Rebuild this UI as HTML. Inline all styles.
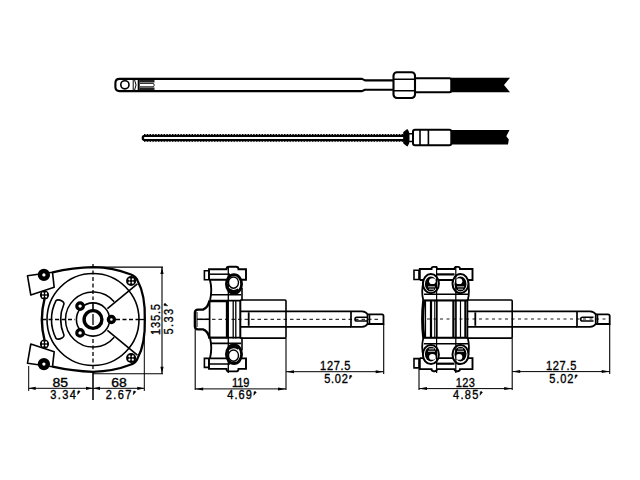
<!DOCTYPE html>
<html><head><meta charset="utf-8">
<style>
html,body{margin:0;padding:0;background:#fff;width:640px;height:480px;overflow:hidden}
svg{display:block}
text{font-family:"Liberation Sans",sans-serif;fill:#000}
</style></head><body>
<svg width="640" height="480" viewBox="0 0 640 480">
<rect width="640" height="480" fill="#fff"/>
<g fill="none" stroke="#000" stroke-linejoin="round" stroke-linecap="butt">

<!-- ============ TOP ROD ============ -->
<path d="M393,80.4 H365 L362,78.9 H119.5 Q115.4,78.9 115.4,83 V87 Q115.4,91.1 119.5,91.1 H362 L365,89.7 H393" stroke-width="2.1"/>
<circle cx="124.9" cy="84.8" r="4.1" stroke-width="1.6"/>
<path d="M133.2,80 V90 M134.6,80 Q137.5,85 134.6,90" stroke-width="1"/>
<path d="M138.7,79.5 V90.5" stroke-width="2"/>
<path d="M139.5,81.3 H154.5 M139.5,88.7 H154.5" stroke-width="2.5" stroke="#222"/>
<path d="M140,83.4 H153.5 Q155,85.1 153.5,86.8 H140" stroke-width="0.9"/>
<!-- nut -->
<rect x="393.5" y="72.2" width="21.5" height="25.8" rx="3.5" stroke-width="2.1"/>
<path d="M394,79.2 H414.5 M394,90.8 H414.5" stroke-width="1.5"/>
<!-- after nut tube -->
<path d="M415,78.3 H449.5 Q451.3,78.3 451.3,80.5 V90 Q451.3,92.2 449.5,92.2 H415" stroke-width="2.1"/>
<!-- black cable -->
<path d="M451,77.7 H510 L504,85 L510,92.2 H451 Z" fill="#000" stroke="none"/>

<!-- ============ SECOND ROD (threaded) ============ -->
<path d="M145,135.9 H404 M404,140.1 H145 Q142.7,140.1 142.7,138 Q142.7,135.9 145,135.9" stroke-width="2.1"/>
<path d="M144,134.6 H404 M144,141.3 H404" stroke-width="1.1" stroke-dasharray="1.4 1.4"/>
<!-- flange -->
<path d="M403.8,132.5 L405,131.5 L407.3,129.8 L408.6,132.5 V143 L407.3,145.8 L405,144 L403.8,143 Z" fill="#000" stroke="#000" stroke-width="1.2"/>
<rect x="408.6" y="133.7" width="4.4" height="7.8" stroke-width="1.5"/>
<rect x="413" y="129.7" width="38.3" height="15.6" rx="2" stroke-width="2"/>
<path d="M420,130 V145 M428.4,130 V145" stroke-width="1.6"/>
<path d="M451.3,130 H509.5 L506.3,136.3 L508.8,139.5 L508,144.6 H451.3 Z" fill="#000" stroke="none"/>

<!-- ============ VIEW 1 FRONT ============ -->
<!-- body outline -->
<path d="M52.5,272.3 C65,269.5 80,267.5 93,267.2 C108,267.5 122,271 131,274.5 Q136,276.5 137.5,280.5 Q145.5,295 144.8,319.5 Q145.5,344 137.5,358.5 Q136,362.5 131,364.5 C122,368 108,371.5 93,371.8 C80,371.5 65,369.5 52.5,366.7" stroke-width="2.3"/>
<path d="M44.5,299 Q39.2,319.5 44.5,340" stroke-width="2.4"/>
<!-- brackets -->
<path d="M27.5,275.8 L52.5,272.3 L54.2,287.3 L30.8,295 Z" stroke-width="1.6" fill="#fff"/>
<path d="M27.5,363.2 L52.5,366.7 L54.2,351.7 L30.8,344 Z" stroke-width="1.6" fill="#fff"/>
<circle cx="43.9" cy="274.9" r="3.9" stroke-width="4.5" fill="#fff"/>
<circle cx="43.9" cy="364.1" r="3.9" stroke-width="4.5" fill="#fff"/>
<!-- circles -->
<circle cx="93" cy="319.5" r="46" stroke-width="1.6"/>
<path d="M56,300.6 A41.6,41.6 0 0 0 56,338.4 Q58,340 62,338 Q64,337 64,335.2 A40,40 0 0 1 64,303.8 Q64,302 62,301 Q58,299 56,300.6 Z" stroke-width="1.6"/>
<path d="M114.2,301.7 A27.6,27.6 0 1 0 114.2,337.3" stroke-width="1.5"/>
<!-- diagonals -->
<path d="M107.4,308.7 L137.4,283.8 M107.4,330.3 L137.4,355.2" stroke-width="1.6"/>
<!-- C ring -->
<circle cx="93" cy="319.5" r="16.6" stroke-width="1.6"/>
<path d="M93,303 V310.5" stroke-width="1.6"/>
<!-- hub -->
<circle cx="93" cy="319.5" r="8.9" stroke-width="3.4"/>
<path d="M93,314 V325" stroke-width="1.3"/>
<!-- bolts -->
<circle cx="80.1" cy="306.1" r="3.3" stroke-width="3.2" fill="#fff"/>
<circle cx="80.1" cy="332.9" r="3.3" stroke-width="3.2" fill="#fff"/>
<circle cx="111.4" cy="319.5" r="3.0" stroke-width="3.4" fill="#fff"/>
<!-- corner screws -->
<g fill="#000" stroke="none">
<circle cx="131.1" cy="281" r="5"/><circle cx="131.1" cy="358" r="5"/>
<circle cx="44.5" cy="295" r="4.6"/><circle cx="44.5" cy="344" r="4.6"/>
</g>
<g fill="#fff" stroke="none">
<circle cx="129.4" cy="279.3" r="1.1"/><circle cx="132.8" cy="279.3" r="1.1"/><circle cx="129.4" cy="282.7" r="1.1"/><circle cx="132.8" cy="282.7" r="1.1"/>
<circle cx="129.4" cy="356.3" r="1.1"/><circle cx="132.8" cy="356.3" r="1.1"/><circle cx="129.4" cy="359.7" r="1.1"/><circle cx="132.8" cy="359.7" r="1.1"/>
<circle cx="42.9" cy="293.4" r="1.05"/><circle cx="46.1" cy="293.4" r="1.05"/><circle cx="42.9" cy="296.6" r="1.05"/><circle cx="46.1" cy="296.6" r="1.05"/>
<circle cx="42.9" cy="342.4" r="1.05"/><circle cx="46.1" cy="342.4" r="1.05"/><circle cx="42.9" cy="345.6" r="1.05"/><circle cx="46.1" cy="345.6" r="1.05"/>
</g>
<!-- center lines -->
<path d="M93,264 V300 M93,339 V372" stroke-width="1.3" stroke-dasharray="4 2.5"/>
<path d="M93,372 V400" stroke-width="1.1"/>
<path d="M42,319.5 H75 M116,319.5 H138" stroke-width="1.3" stroke-dasharray="4 2.5"/>
<path d="M138,319.5 H144" stroke-width="1.3"/>
<!-- dimension lines -->
<path d="M28.7,366 V391 M144.3,336 V391 M93,372 V400" stroke-width="1"/>
<path d="M28.7,388.3 H144.3" stroke-width="1"/>
<path d="M93,267.1 H163 M93,373.8 H163 M162,267.1 V373.8" stroke-width="1.1"/>
</g>
<g fill="#000" stroke="none">
<path d="M28.7,388.3 l7,-1.6 v3.2 z M93,388.3 l-7,-1.6 v3.2 z M93,388.3 l7,-1.6 v3.2 z M144.3,388.3 l-7,-1.6 v3.2 z"/>
<path d="M162,267.1 l-1.6,7 h3.2 z M162,373.8 l-1.6,-7 h3.2 z"/>
<path d="M195.2,388.9 l8,-1.5 v3 z M286,388.9 l-8,-1.5 v3 z M286,371.7 l8,-1.5 v3 z M383.7,371.7 l-8,-1.5 v3 z M419,388.6 l8,-1.5 v3 z M512.2,388.6 l-8,-1.5 v3 z M512.2,371.6 l8,-1.5 v3 z M609.7,371.6 l-8,-1.5 v3 z"/>
</g>
<g fill="none" stroke="#000">

<!-- ============ VIEW 2 SIDE ============ -->
<g>
<path d="M204.4,270.8 H209 V279.8 H204.4 Z" stroke-width="1.6" fill="#fff"/>
<path d="M209,279.8 V269.3 H226.5 Q226.5,266.8 229,266.8 H236 Q238.5,266.8 238.5,269.3 H246 V279.8 H209" stroke-width="1.9" fill="#fff"/>
<path d="M209,274.2 H230" stroke-width="1.5"/>
<path d="M210,280 Q212.5,290 210,300.6" stroke-width="1.9"/>
<path d="M210,294.8 H241 M210,300.6 H241" stroke-width="1.6"/>
<ellipse cx="234" cy="284" rx="7.6" ry="9.3" stroke-width="2.8" fill="#fff"/>
<path d="M228.5,289 Q233,293 238.5,289.5" stroke-width="2.4"/>
<path d="M242,288 V300.6" stroke-width="1.6"/>
<ellipse cx="233.5" cy="282.6" rx="5" ry="5.6" stroke-width="1.4"/>
</g>
<g transform="translate(0,638.2) scale(1,-1)">
<path d="M204.4,270.8 H209 V279.8 H204.4 Z" stroke-width="1.6" fill="#fff"/>
<path d="M209,279.8 V269.3 H226.5 Q226.5,266.8 229,266.8 H236 Q238.5,266.8 238.5,269.3 H246 V279.8 H209" stroke-width="1.9" fill="#fff"/>
<path d="M209,274.2 H230" stroke-width="1.5"/>
<path d="M210,280 Q212.5,290 210,300.6" stroke-width="1.9"/>
<path d="M210,294.8 H241 M210,300.6 H241" stroke-width="1.6"/>
<ellipse cx="234" cy="284" rx="7.6" ry="9.3" stroke-width="2.8" fill="#fff"/>
<path d="M228.5,289 Q233,293 238.5,289.5" stroke-width="2.4"/>
<path d="M242,288 V300.6" stroke-width="1.6"/>
<ellipse cx="233.5" cy="282.6" rx="5" ry="5.6" stroke-width="1.4"/>
</g>
<path d="M228.3,266 V373" stroke-width="1.3"/>
<!-- hub boss -->
<path d="M209.5,300.6 Q208,308 203,309.6 H198 Q194.9,309.6 194.9,313 V326 Q194.9,329.4 198,329.4 H203 Q208,331 209.5,338.4" stroke-width="2.4"/>
<path d="M197,312 V327" stroke-width="1"/>
<path d="M197,319.3 H209" stroke-width="1.5"/>
<path d="M209.6,300.6 V338.4" stroke-width="1.7"/>
<path d="M209.6,301.4 H227 M209.6,337.6 H227" stroke-width="1.6"/>
<path d="M227,300.6 V338.4" stroke-width="2.3"/>
<path d="M233.2,300.6 V338.4 M235.8,300.6 V338.4" stroke-width="1.3"/>
<path d="M240.3,300 V338.4" stroke-width="2"/>
<!-- housing -->
<path d="M240.3,300 H285 Q286,300 286,301 V337.1 Q286,338.1 285,338.1 H240.3" stroke-width="1.6"/>
<path d="M240.3,311.3 H351 M240.3,326.8 H351" stroke-width="1.8"/>
<path d="M248.7,312.3 V325.8" stroke-width="1.8"/>
<!-- shaft end -->
<path d="M351,311.3 H362 Q366,311.5 367.5,314.3 V324 Q366,326.6 362,326.8 H351 V311.3" stroke-width="1.7"/>
<path d="M367.5,314.3 H382 Q383.5,314.3 383.5,316 V324 H367.5" stroke-width="1.8"/>
<path d="M369.5,315 V323.5" stroke-width="1.6"/>
<path d="M367,317.3 H356.8 Q355,317.3 355,319.15 Q355,321 356.8,321 H367" stroke-width="1.6"/>
<!-- center line -->
<path d="M199,319.3 H380" stroke-width="1" stroke-dasharray="3.5 3"/>
<!-- dims -->
<path d="M195.2,329.4 V390 M286,338.1 V390 M383.7,324 V374" stroke-width="1.1"/>
<path d="M195.2,388.9 H286 M286,371.7 H383.7" stroke-width="1"/>

<!-- ============ VIEW 3 SIDE ============ -->
<g>
<path d="M414,270.2 H419 V279.5 H414 Z" stroke-width="1.6" fill="#fff"/>
<path d="M419.8,280 V269 H431.5 Q431.5,266.9 433.5,266.9 H435 Q437,266.9 437,269 H454.5 Q454.5,266.9 456.5,266.9 H458 Q460,266.9 460,269 H472.5 V280 H419.8" stroke-width="1.9" fill="#fff"/>
<path d="M437,274.4 H454.5" stroke-width="2.2"/>
<path d="M424,294.3 H468 M424,300.2 H468" stroke-width="1.6"/>
<path d="M423.5,282 Q421,291 423.3,300.2 M468,282 Q470,291 467.8,300.2" stroke-width="1.8"/>
<ellipse cx="430.9" cy="283.6" rx="8" ry="9.6" stroke-width="2" fill="#fff"/>
<ellipse cx="460.5" cy="283.6" rx="8" ry="9.6" stroke-width="2" fill="#fff"/>
<ellipse cx="430.9" cy="284" rx="6" ry="7.4" fill="#000" stroke="none"/>
<ellipse cx="460.5" cy="284" rx="6" ry="7.4" fill="#000" stroke="none"/>
<ellipse cx="432.4" cy="281.2" rx="3.3" ry="2.9" fill="#fff" stroke="none"/>
<ellipse cx="459" cy="281.2" rx="3.3" ry="2.9" fill="#fff" stroke="none"/>
<path d="M428,286.8 H435 M429,289.2 H434 M457,286.8 H464 M458,289.2 H463" stroke="#fff" stroke-width="0.8"/>
</g>
<g transform="translate(0,638.1) scale(1,-1)">
<path d="M414,270.2 H419 V279.5 H414 Z" stroke-width="1.6" fill="#fff"/>
<path d="M419.8,280 V269 H431.5 Q431.5,266.9 433.5,266.9 H435 Q437,266.9 437,269 H454.5 Q454.5,266.9 456.5,266.9 H458 Q460,266.9 460,269 H472.5 V280 H419.8" stroke-width="1.9" fill="#fff"/>
<path d="M437,274.4 H454.5" stroke-width="2.2"/>
<path d="M424,294.3 H468 M424,300.2 H468" stroke-width="1.6"/>
<path d="M423.5,282 Q421,291 423.3,300.2 M468,282 Q470,291 467.8,300.2" stroke-width="1.8"/>
<ellipse cx="430.9" cy="283.6" rx="8" ry="9.6" stroke-width="2" fill="#fff"/>
<ellipse cx="460.5" cy="283.6" rx="8" ry="9.6" stroke-width="2" fill="#fff"/>
<ellipse cx="430.9" cy="284" rx="6" ry="7.4" fill="#000" stroke="none"/>
<ellipse cx="460.5" cy="284" rx="6" ry="7.4" fill="#000" stroke="none"/>
<ellipse cx="432.4" cy="281.2" rx="3.3" ry="2.9" fill="#fff" stroke="none"/>
<ellipse cx="459" cy="281.2" rx="3.3" ry="2.9" fill="#fff" stroke="none"/>
<path d="M428,286.8 H435 M429,289.2 H434 M457,286.8 H464 M458,289.2 H463" stroke="#fff" stroke-width="0.8"/>
</g>
<path d="M436.6,266 V373 M455.8,266 V373" stroke-width="1.2"/>
<!-- middle -->
<path d="M423.8,300.2 Q421.6,319 423.8,338" stroke-width="3.2"/>
<path d="M425.5,300.5 V337.6 M434.8,300.5 V337.6 M437,300.5 V337.6 M456,300.5 V337.6 M460.5,300.5 V337.6" stroke-width="1.2"/>
<path d="M431,300.5 V337.6 M453.4,300.5 V337.6 M465.4,300.5 V337.6" stroke-width="2.2"/>
<path d="M423.5,300.6 H467.5 M423.5,337.5 H467.5" stroke-width="1.6"/>
<!-- housing -->
<path d="M467.5,300 H511.2 Q512.2,300 512.2,301 V337.1 Q512.2,338.1 511.2,338.1 H467.5 Z" stroke-width="1.6"/>
<path d="M467.5,311.3 H577 M467.5,326.8 H577" stroke-width="1.8"/>
<path d="M475.3,312.3 V325.8" stroke-width="1.8"/>
<path d="M577,311.3 H590 Q594,311.5 595.7,314.3 V324 Q594,326.6 590,326.8 H577 V311.3" stroke-width="1.7"/>
<path d="M595.7,314.3 H608 Q609.7,314.3 609.7,316 V324 H595.7" stroke-width="1.8"/>
<path d="M597.5,315 V323.5" stroke-width="1.6"/>
<path d="M593.5,317.3 H582.5 Q580.7,317.3 580.7,319.15 Q580.7,321 582.5,321 H593.5" stroke-width="1.6"/>
<path d="M427,319 H606" stroke-width="0.9" stroke-dasharray="3 3.5"/>
<!-- dims -->
<path d="M419,369 V390 M512.2,338.1 V390 M609.7,324 V374" stroke-width="1.1"/>
<path d="M419,388.6 H512.2 M512.2,371.6 H609.7" stroke-width="1"/>
</g>
<g font-size="12" fill="#000" stroke="#000" stroke-width="0.35">
<text transform="scale(1.0,1)" x="52.50" y="386.8" textLength="15.60" lengthAdjust="spacingAndGlyphs">85</text>
<text transform="scale(0.92,1)" x="54.56" y="398.6" textLength="27.83" lengthAdjust="spacing">3.34</text>
<text transform="scale(1.0,1)" x="111.30" y="386.8" textLength="15.50" lengthAdjust="spacingAndGlyphs">68</text>
<text transform="scale(0.92,1)" x="115.00" y="398.8" textLength="27.93" lengthAdjust="spacing">2.67</text>
<text transform="scale(0.92,1)" x="252.06" y="386.8" textLength="19.13" lengthAdjust="spacing">119</text>
<text transform="scale(0.92,1)" x="246.96" y="399.3" textLength="26.96" lengthAdjust="spacing">4.69</text>
<text transform="scale(0.92,1)" x="347.94" y="370.0" textLength="32.83" lengthAdjust="spacing">127.5</text>
<text transform="scale(0.92,1)" x="352.50" y="383.1" textLength="25.55" lengthAdjust="spacing">5.02</text>
<text transform="scale(0.92,1)" x="495.32" y="386.8" textLength="20.87" lengthAdjust="spacing">123</text>
<text transform="scale(0.92,1)" x="492.39" y="399.3" textLength="27.50" lengthAdjust="spacing">4.85</text>
<text transform="scale(0.92,1)" x="593.47" y="370.0" textLength="32.93" lengthAdjust="spacing">127.5</text>
<text transform="scale(0.92,1)" x="597.06" y="382.6" textLength="26.09" lengthAdjust="spacing">5.02</text>
</g>
<path d="M77.9,391.0 Q79.5,390.4 80.1,391.6 L77.6,394.6 Z M133.6,391.2 Q135.2,390.6 135.8,391.8 L133.3,394.8 Z M254.1,391.7 Q255.7,391.1 256.3,392.3 L253.8,395.3 Z M349.8,375.5 Q351.4,374.9 352.0,376.1 L349.5,379.1 Z M480.3,391.7 Q481.9,391.1 482.5,392.3 L480.0,395.3 Z M575.3,375.0 Q576.9,374.4 577.5,375.6 L575.0,378.6 Z" fill="#000" stroke="#000" stroke-width="0.5" stroke-linejoin="round"/>
<g font-size="12" fill="#000" stroke="#000" stroke-width="0.35" transform="translate(160,334.4) rotate(-90)"><text transform="scale(0.92,1)" x="-0.54" y="0" textLength="33.47" lengthAdjust="spacing">135.5</text></g>
<g font-size="12" fill="#000" stroke="#000" stroke-width="0.35" transform="translate(173.1,333.9) rotate(-90)"><text transform="scale(0.92,1)" x="-0.54" y="0" textLength="27.72" lengthAdjust="spacing">5.33</text></g>
<path d="M164,305.6 Q163.6,303.6 165,303.2 L167.8,305.8 Z" fill="#000" stroke="#000" stroke-width="0.5" stroke-linejoin="round"/>
<g fill="none" stroke="#000">
</g>
</svg>
</body></html>
